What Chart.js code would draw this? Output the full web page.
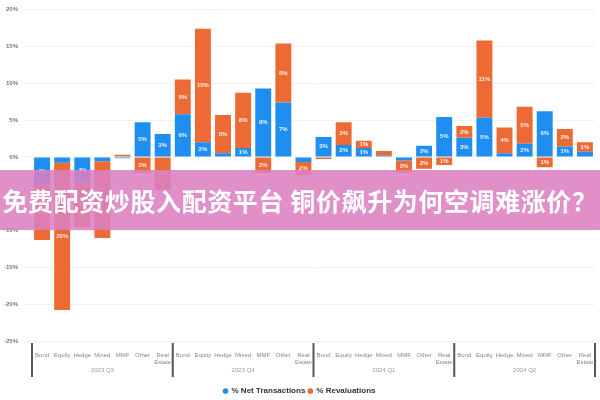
<!DOCTYPE html>
<html>
<head>
<meta charset="utf-8">
<script src="https://cdn.jsdelivr.net/npm/chart.js@4"></script>
<style>
  html, body { margin: 0; padding: 0; background: #fff; }
  #wrap { position: relative; width: 600px; height: 400px; }
  #banner {
    position: absolute; left: 0; top: 170px; width: 600px; height: 60px;
    background: rgba(220, 128, 192, 0.88);
    color: #fff; font: bold 25px "Noto Sans CJK SC", sans-serif;
    line-height: 60px; text-align: center; white-space: nowrap; letter-spacing: 0.6px;
  }
</style>
</head>
<body>
<div id="wrap">
  <canvas id="flows" width="600" height="400"></canvas>
  <div id="banner">免费配资炒股入配资平台 铜价飙升为何空调难涨价？</div>
</div>
<script>
// chart data
const categories = ["Bond", "Equity", "Hedge", "Mixed", "MMF", "Other", ["Real", "Estate"]];
const groupLabels = ["2023 Q3", "2023 Q4", "2024 Q1", "2024 Q2"];
const netTransactions = [-3.8, -0.8, -3.5, -0.6, -0.2, 4.7, 3.1,
                          5.8, 2.0, 0.5, 1.2, 9.3, 7.4, -0.7,
                          2.7, 1.6, 1.2, 0.2, -0.5, 1.5, 5.4,
                          2.6, 5.3, 0.5, 1.8, 6.2, 1.4, 0.7];
const revaluations = [-7.5, -20.0, -6.0, -10.4, 0.3, -2.2, -4.5,
                       4.7, 15.4, 5.2, 7.5, -2.2, 8.0, -1.8,
                      -0.3, 3.1, 1.0, 0.6, -1.7, -1.6, -1.1,
                       1.6, 10.5, 3.5, 5.0, -1.4, 2.4, 1.3];
const yTicks = [-25, -20, -15, -10, -5, 0, 5, 10, 15, 20];

const labels = [];
groupLabels.forEach(() => categories.forEach(c => labels.push(c)));

const BLUE = "#1f8ef1";
const ORANGE = "#ee6a35";

// white % labels inside the bars
const barLabels = {
  id: "barLabels",
  afterDatasetsDraw(chart) {
    const ctx = chart.ctx;
    ctx.save();
    ctx.font = "bold 6px 'Liberation Sans', sans-serif";
    ctx.fillStyle = "rgba(255,255,255,0.9)";
    ctx.textAlign = "center";
    ctx.textBaseline = "middle";
    chart.data.datasets.forEach((ds, di) => {
      chart.getDatasetMeta(di).data.forEach((bar, i) => {
        const v = ds.data[i];
        if (Math.abs(v) < 1) return;
        ctx.fillText(Math.round(Math.abs(v)) + "%", bar.x, (bar.y + bar.base) / 2);
      });
    });
    ctx.restore();
  }
};

// group separators and quarter labels under the axis
const groupAxis = {
  id: "groupAxis",
  afterDraw(chart) {
    const x = chart.scales.x;
    const ctx = chart.ctx;
    const n = categories.length;
    const step = x.getPixelForValue(1) - x.getPixelForValue(0);
    const top = chart.chartArea.bottom + 2;
    ctx.save();
    ctx.strokeStyle = "#555";
    ctx.lineWidth = 2;
    for (let g = 0; g <= groupLabels.length; g++) {
      const px = x.getPixelForValue(g * n) - step / 2;
      ctx.beginPath();
      ctx.moveTo(px, top);
      ctx.lineTo(px, top + 34);
      ctx.stroke();
    }
    ctx.fillStyle = "#999";
    ctx.font = "6px 'Liberation Sans', sans-serif";
    ctx.textAlign = "center";
    ctx.textBaseline = "middle";
    groupLabels.forEach((g, gi) => {
      const mid = (x.getPixelForValue(gi * n) + x.getPixelForValue(gi * n + n - 1)) / 2;
      ctx.fillText(g, mid, top + 27);
    });
    ctx.restore();
  }
};

new Chart(document.getElementById("flows"), {
  type: "bar",
  data: {
    labels: labels,
    datasets: [
      { label: "% Net Transactions", data: netTransactions, backgroundColor: BLUE },
      { label: "% Revaluations", data: revaluations, backgroundColor: ORANGE }
    ]
  },
  options: {
    responsive: false,
    animation: false,
    layout: { padding: { top: 7, right: 5, left: 4, bottom: -5 } },
    datasets: { bar: { categoryPercentage: 0.9, barPercentage: 0.88 } },
    scales: {
      x: {
        stacked: true,
        grid: { display: false },
        border: { display: false },
        ticks: { autoSkip: false, maxRotation: 0, minRotation: 0, padding: 3,
                 color: "#888", font: { size: 6 } },
        afterFit: (s) => { s.height = 43; }
      },
      y: {
        stacked: true,
        min: -25, max: 20,
        afterBuildTicks: (s) => { s.ticks = yTicks.map(v => ({ value: v })); },
        grid: { color: "#f3f3ee" },
        border: { display: false },
        ticks: { color: "#777", padding: 6, font: { size: 6, weight: "bold" }, callback: v => v + "%" },
        afterFit: (s) => { s.width = 28; }
      }
    },
    plugins: {
      legend: {
        position: "bottom",
        labels: { usePointStyle: true, pointStyle: "circle", boxWidth: 4, boxHeight: 4,
                  padding: 3, color: "#333", font: { size: 8, weight: "bold" } }
      },
      tooltip: { enabled: false }
    }
  },
  plugins: [barLabels, groupAxis]
});
</script>
</body>
</html>
